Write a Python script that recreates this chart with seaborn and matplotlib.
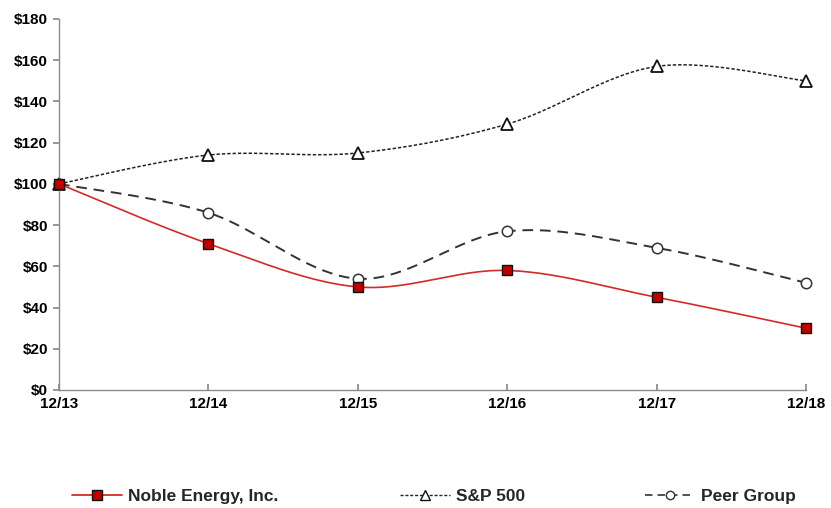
import numpy as np
import matplotlib
matplotlib.use("Agg")
import matplotlib.pyplot as plt
import seaborn as sns
from matplotlib.lines import Line2D

periods = ["12/13", "12/14", "12/15", "12/16", "12/17", "12/18"]
noble = [100, 71, 50, 58, 45, 30]
sp500 = [100, 114, 115, 129, 157, 150]
peer = [100, 86, 54, 77, 69, 52]
y_ticks = [0, 20, 40, 60, 80, 100, 120, 140, 160, 180]

sns.set_theme(style="white")
plt.rcParams["font.family"] = ["Liberation Sans", "DejaVu Sans"]


def smooth(xv, yv, n=40):
    """Excel-style smoothed curve (cardinal Bezier through each point)."""
    p = np.column_stack([xv, yv]).astype(float)
    ext = np.vstack([p[0], p, p[-1]])
    out = []
    t = np.linspace(0, 1, n)[:, None]
    for i in range(len(p) - 1):
        p0, p1, p2, p3 = ext[i], ext[i + 1], ext[i + 2], ext[i + 3]
        c1 = p1 + (p2 - p0) / 6.0
        c2 = p2 - (p3 - p1) / 6.0
        seg = ((1 - t) ** 3) * p1 + 3 * ((1 - t) ** 2) * t * c1 + 3 * (1 - t) * t ** 2 * c2 + t ** 3 * p2
        out.append(seg if i == 0 else seg[1:])
    c = np.vstack(out)
    return c[:, 0], c[:, 1]


fig = plt.figure(figsize=(8.31, 5.08), dpi=100)
ax = fig.add_axes([59 / 831, 1 - 390 / 508, (806 - 59) / 831, (390 - 19) / 508])

xpos = np.arange(len(periods))

red = "#d42a2a"
series = [
    ("S&P 500", sp500, dict(color="#222222", lw=1.1, dashes=(2.2, 1.3)),
     dict(marker="^", ms=8.5, mfc="white", mec="#111111", mew=1.3), 2),
    ("Peer Group", peer, dict(color="#333333", lw=1.4, dashes=(5.5, 3.5)),
     dict(marker="o", ms=7.5, mfc="white", mec="#333333", mew=1.1), 3),
    ("Noble Energy, Inc.", noble, dict(color=red, lw=1.2, dashes=()),
     dict(marker="s", ms=7.5, mfc="#c00000", mec="#111111", mew=1.0), 4),
]

for name, vals, lstyle, mstyle, z in series:
    cx, cy = smooth(xpos, vals)
    sns.lineplot(x=cx, y=cy, ax=ax, sort=False, estimator=None, color=lstyle["color"],
                 linewidth=lstyle["lw"], zorder=z)
    line = ax.lines[-1]
    if lstyle["dashes"]:
        line.set_dashes(lstyle["dashes"])
    ax.plot(xpos, vals, linestyle="none", zorder=z + 0.5, clip_on=False, **mstyle)

ax.set_xlim(0, len(periods) - 1)
ax.set_ylim(0, 180)
ax.set_xticks(xpos)
ax.set_xticklabels(periods, fontsize=11, fontweight="bold")
ax.set_yticks(y_ticks)
ax.set_yticklabels([f"${v}" for v in y_ticks], fontsize=11, fontweight="bold")
ax.set_xlabel("")
ax.set_ylabel("")

for s in ["top", "right"]:
    ax.spines[s].set_visible(False)
for s in ["left", "bottom"]:
    ax.spines[s].set_color("#8a8a8a")
    ax.spines[s].set_linewidth(1.0)

ax.tick_params(axis="y", which="both", left=True, direction="out", length=4, color="#8a8a8a",
               pad=4, labelcolor="black")
ax.tick_params(axis="x", which="both", bottom=True, direction="in", length=4, color="#8a8a8a",
               pad=5, labelcolor="black")

# legend entries laid out across the bottom
handles = {
    "Noble Energy, Inc.": Line2D([], [], color=red, lw=1.3, marker="s", ms=7.5,
                                mfc="#c00000", mec="#111111", mew=1.0),
    "S&P 500": Line2D([], [], color="#222222", lw=1.0, dashes=(2.2, 1.3), marker="^", ms=6.5,
                      mfc="white", mec="#111111", mew=1.0),
    "Peer Group": Line2D([], [], color="#333333", lw=1.2, dashes=(4.5, 3), marker="o", ms=6,
                         mfc="white", mec="#333333", mew=1.0),
}
anchors = {"Noble Energy, Inc.": 72, "S&P 500": 400, "Peer Group": 645}
for name, h in handles.items():
    fig.legend([h], [name], loc="center left",
               bbox_to_anchor=(anchors[name] / 831, 1 - 496 / 508),
               frameon=False, handlelength=2.9, handletextpad=0.35, borderpad=0,
               borderaxespad=0, prop={"weight": "bold", "size": 12.5})

fig.savefig("out.png", dpi=100)
